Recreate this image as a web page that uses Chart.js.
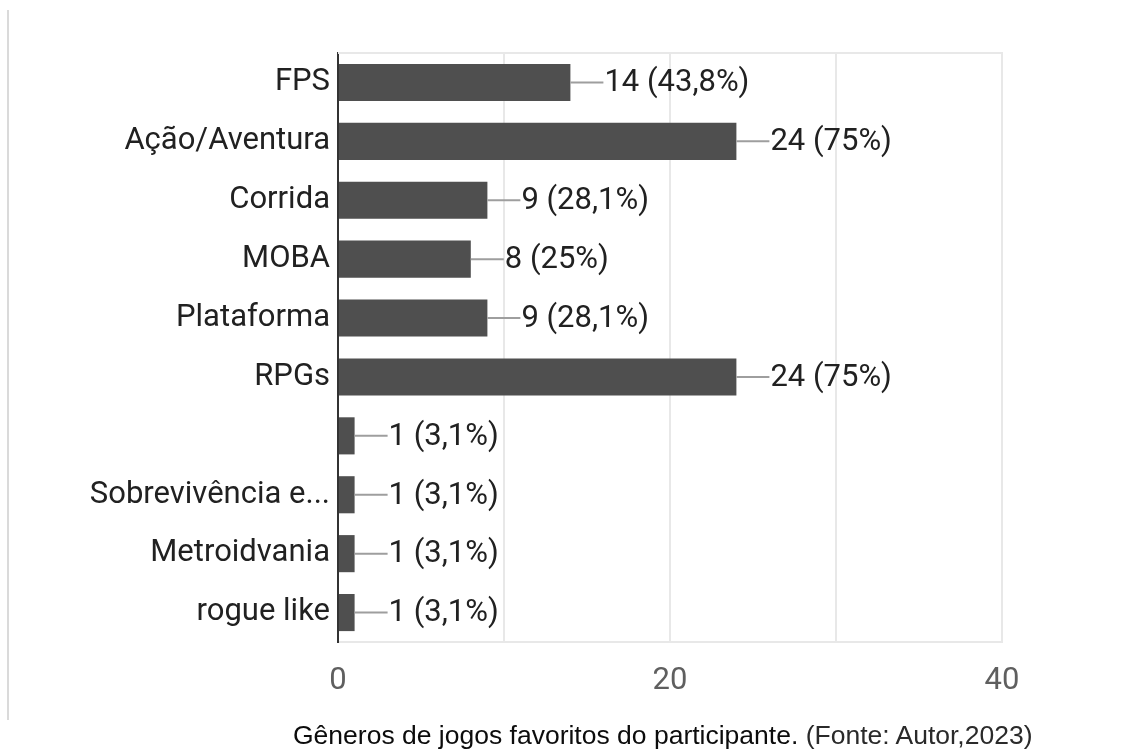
<!DOCTYPE html>
<html>
<head>
<meta charset="utf-8">
<script src="https://cdn.jsdelivr.net/npm/chart.js@4/dist/chart.umd.min.js"></script>
<style>
  body { margin: 0; background: #fff; width: 1129px; height: 749px; overflow: hidden; position: relative; }
  #leftRule { position: absolute; left: 7px; top: 10px; width: 2px; height: 710px; background: #dadada; }
  #chartBox { position: absolute; left: 0; top: 0; width: 1129px; height: 749px; }
  #caption { position: absolute; left: 293px; top: 720px; font: 26.5px "Liberation Sans", Arial, sans-serif; color: #0c0c0c; white-space: nowrap; }
</style>
</head>
<body>
<div id="leftRule"></div>
<div id="chartBox"><canvas id="generos" width="1129" height="749"></canvas></div>
<div id="caption">Gêneros de jogos favoritos do participante. <span style="color:#2a2a2a">(Fonte: Autor,2023)</span></div>
<script>
const genres = ["FPS", "Ação/Aventura", "Corrida", "MOBA", "Plataforma", "RPGs", "", "Sobrevivência e...", "Metroidvania", "rogue like"];
const votes = [14, 24, 9, 8, 9, 24, 1, 1, 1, 1];
const respondents = 32;
const xTickLabels = [0, 20, 40];

const barColor = "#4f4f4f";
const gridColor = "#e8e8e8";
const labelFont = { family: "Roboto", size: 31 };

function pctText(v) {
  const p = (v / respondents * 100).toFixed(1).replace(/\.0$/, "");
  return p.replace(".", ",") + "%";
}

// count + percentage next to each bar, joined by a short grey stroke
const valueLabels = {
  id: "valueLabels",
  afterDatasetsDraw(chart) {
    const ctx = chart.ctx;
    const meta = chart.getDatasetMeta(0);
    ctx.save();
    ctx.font = labelFont.size + "px " + labelFont.family;
    ctx.textBaseline = "middle";
    ctx.fillStyle = "#212121";
    meta.data.forEach((bar, i) => {
      const x = bar.x;
      const y = bar.y;
      ctx.strokeStyle = "#9e9e9e";
      ctx.lineWidth = 2;
      ctx.beginPath();
      ctx.moveTo(x, y);
      ctx.lineTo(x + 33, y);
      ctx.stroke();
      ctx.fillText(votes[i] + " (" + pctText(votes[i]) + ")", x + 34, y + 1);
    });
    ctx.restore();
  }
};

// light frame line along the top of the plot
const topFrame = {
  id: "topFrame",
  beforeDatasetsDraw(chart) {
    const { ctx, chartArea } = chart;
    ctx.save();
    ctx.strokeStyle = gridColor;
    ctx.lineWidth = 2;
    ctx.beginPath();
    ctx.moveTo(chartArea.left, chartArea.top);
    ctx.lineTo(chartArea.right + 1, chartArea.top);
    ctx.stroke();
    ctx.restore();
  }
};

new Chart(document.getElementById("generos"), {
  type: "bar",
  data: {
    labels: genres,
    datasets: [{
      data: votes,
      backgroundColor: barColor,
      borderWidth: 0,
      barPercentage: 0.63,
      categoryPercentage: 1
    }]
  },
  options: {
    indexAxis: "y",
    responsive: false,
    animation: false,
    layout: { padding: { top: 53, right: 127, left: 0, bottom: 0 } },
    plugins: { legend: { display: false }, tooltip: { enabled: false } },
    scales: {
      x: {
        min: 0,
        max: 40,
        afterFit: scale => { scale.height = 107; },
        ticks: {
          stepSize: 10,
          padding: 21,
          color: "#5f5f5f",
          font: labelFont,
          callback: v => xTickLabels.includes(v) ? String(v) : ""
        },
        grid: {
          color: c => c.tick && c.tick.value === 0 ? "rgba(0,0,0,0)" : gridColor,
          lineWidth: 2,
          drawTicks: false
        },
        border: { color: gridColor, width: 2 }
      },
      y: {
        afterFit: scale => { scale.width = 338; },
        ticks: {
          padding: 8,
          color: "#212121",
          font: labelFont,
          autoSkip: false
        },
        grid: { display: false, drawTicks: false },
        border: { color: "#333", width: 2 }
      }
    }
  },
  plugins: [topFrame, valueLabels]
});
</script>
</body>
</html>
